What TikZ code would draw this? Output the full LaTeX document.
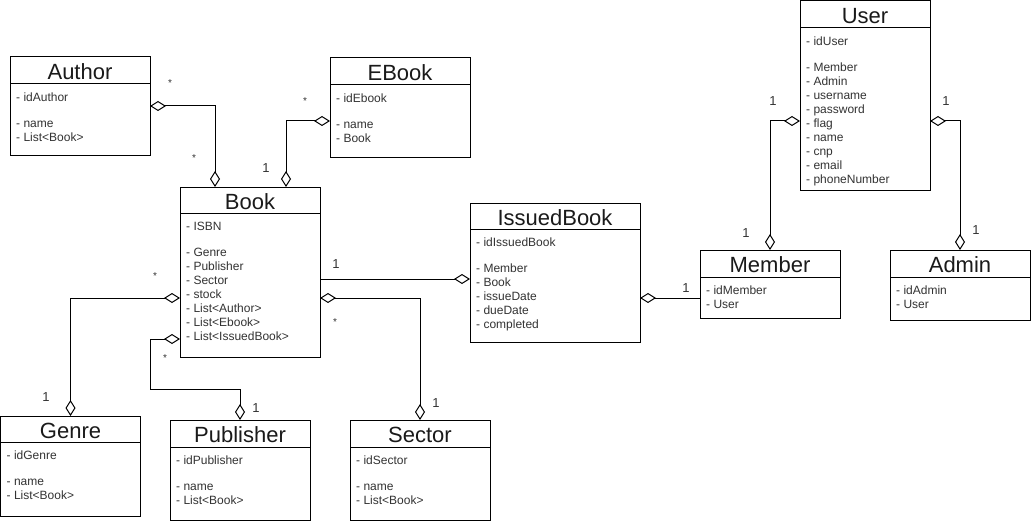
\documentclass[tikz,border=0pt]{standalone}
\usepackage{fontspec}
\setmainfont{Liberation Sans}
\usetikzlibrary{arrows.meta}
\definecolor{attrc}{HTML}{333333}
\definecolor{titlec}{HTML}{1A1A1A}
\tikzset{
  umlbox/.style={draw, line width=1pt, inner sep=0pt, outer sep=0pt, anchor=north west, fill=white},
  titletext/.style={font=\fontsize{22}{26}\selectfont, text=titlec, inner sep=0pt},
  attrtext/.style={font=\fontsize{12}{14}\selectfont, text=attrc, align=left, anchor=north west, inner sep=0pt},
  multtext/.style={font=\fontsize{13}{15}\selectfont, text=attrc, inner sep=0pt},
  startext/.style={font=\fontsize{10}{12}\selectfont, text=attrc, inner sep=0pt},
  dia/.tip={Diamond[open,length=16pt,width=10pt,line width=1pt]},
  aggboth/.style={draw, line width=1pt, dia-dia},
  aggend/.style={draw, line width=1pt, -dia},
  aggstart/.style={draw, line width=1pt, dia-},
}
% #1 name, #2 x, #3 y, #4 w, #5 h, #6 header offset, #7 title, #8 attrs
\newcommand{\umlclass}[8]{%
  \node[umlbox, minimum width=#4pt, minimum height=#5pt] (#1) at (#2,#3) {};
  \draw[line width=1pt] ([yshift=-#6pt]#1.north west) -- ([yshift=-#6pt]#1.north east);
  \node[titletext] (#1-title) at ([yshift=-#6pt/2-1.5pt]#1.north) {#7};
  \node[attrtext] (#1-attrs) at ([xshift=6pt,yshift=-#6pt-9pt]#1.north west) {#8};
}
\begin{document}
\begin{tikzpicture}[x=1pt,y=-1pt]
\useasboundingbox (0,0) rectangle (1031,524);

\umlclass{author}{10}{57}{140}{99}{27}{Author}{- idAuthor\\[12pt]- name\\- List<Book>}
\umlclass{ebook}{330}{58}{140}{100}{27}{EBook}{- idEbook\\[12pt]- name\\- Book}
\umlclass{book}{180}{187}{140}{170}{26}{Book}{- ISBN\\[12pt]- Genre\\- Publisher\\- Sector\\- stock\\- List<Author>\\- List<Ebook>\\- List<IssuedBook>}
\umlclass{issued}{470}{203}{170}{139}{26}{IssuedBook}{- idIssuedBook\\[12pt]- Member\\- Book\\- issueDate\\- dueDate\\- completed}
\umlclass{user}{800}{1}{130}{189}{27}{User}{- idUser\\[12pt]- Member\\- Admin\\- username\\- password\\- flag\\- name\\- cnp\\- email\\- phoneNumber}
\umlclass{member}{700}{250}{140}{68}{27}{Member}{- idMember\\- User}
\umlclass{admin}{890}{250}{140}{70}{27}{Admin}{- idAdmin\\- User}
\umlclass{genre}{0.5}{416}{140}{100}{26}{Genre}{- idGenre\\[12pt]- name\\- List<Book>}
\umlclass{publisher}{170}{420}{140}{100}{27}{Publisher}{- idPublisher\\[12pt]- name\\- List<Book>}
\umlclass{sector}{350}{420}{140}{100}{27}{Sector}{- idSector\\[12pt]- name\\- List<Book>}

% connectors
\path[aggboth] ([yshift=-49pt]author.north east) -| ([xshift=35pt]book.north west);
\path[aggboth] ([yshift=-63pt]ebook.north west) -| ([xshift=106pt]book.north west);
\path[aggend] ([yshift=-92pt]book.north east) -- ([yshift=-76pt]issued.north west);
\path[aggstart] ([yshift=-95pt]issued.north east) -- ([yshift=-48pt]member.north west);
\path[aggboth] ([yshift=-120pt]user.north west) -| ([xshift=70pt]member.north west);
\path[aggboth] ([yshift=-120pt]user.north east) -| ([xshift=70pt]admin.north west);
\path[aggboth] ([yshift=-111pt]book.north west) -| ([xshift=70pt]genre.north west);
\path[aggboth] ([yshift=-152pt]book.north west) -| ([xshift=-30pt,yshift=-202pt]book.north west) -| ([xshift=70pt]publisher.north west);
\path[aggboth] ([yshift=-111pt]book.north east) -| ([xshift=70pt]sector.north west);

% multiplicities
\node[startext] (m1) at (170,83) {*};
\node[startext] (m2) at (194,158) {*};
\node[startext] (m3) at (305,101) {*};
\node[multtext] (m4) at (266,168) {1};
\node[multtext] (m5) at (336,264) {1};
\node[multtext] (m6) at (686,288) {1};
\node[multtext] (m7) at (773,101) {1};
\node[multtext] (m8) at (746,233) {1};
\node[multtext] (m9) at (946,101) {1};
\node[multtext] (m10) at (976,230) {1};
\node[startext] (m11) at (155,276) {*};
\node[multtext] (m12) at (46,397) {1};
\node[startext] (m13) at (165,358) {*};
\node[multtext] (m14) at (256,408) {1};
\node[startext] (m15) at (335,322) {*};
\node[multtext] (m16) at (436,403) {1};
\end{tikzpicture}
\end{document}
